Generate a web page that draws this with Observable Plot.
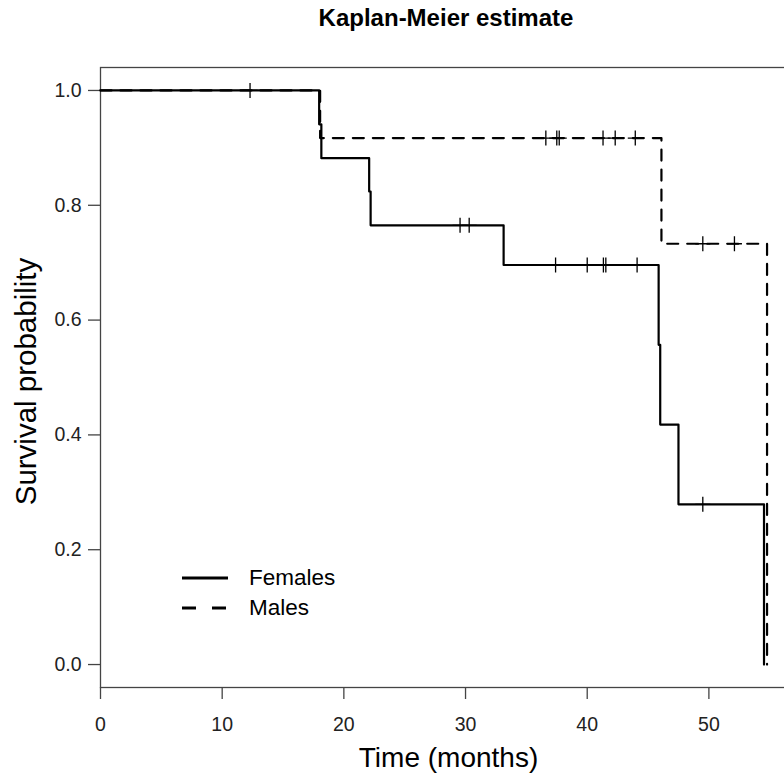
<!DOCTYPE html>
<html>
<head>
<meta charset="utf-8">
<script src="https://cdn.jsdelivr.net/npm/d3@7"></script>
<script src="https://cdn.jsdelivr.net/npm/@observablehq/plot@0.6"></script>
<style>
  html, body { margin: 0; padding: 0; background: #fff; overflow: hidden; }
  #wrap { position: relative; width: 784px; height: 774px; font-family: "Liberation Sans", Arial, sans-serif; color: #000; }
  #title { position: absolute; left: 98px; width: 696px; top: 6px; text-align: center; font-weight: bold; font-size: 24px; line-height: 24px; }
  #chart { position: absolute; left: 0; top: 40px; }
  .leg { position: absolute; left: 180px; height: 30px; display: flex; align-items: center; font-size: 22.5px; }
  .leg svg { display: block; margin-right: 19px; }
</style>
</head>
<body>
<div id="wrap">
  <div id="title"></div>
  <div id="chart"></div>
</div>
<script>
// ---- data ----
const titleText = "Kaplan-Meier estimate";
const xLabel = "Time (months)";
const yLabel = "Survival probability";
const seriesNames = ["Females", "Males"];

const femaleTimes = [0, 17.97, 18.15, 22.08, 22.2, 33.13, 45.87, 46.0, 47.5, 54.53];
const femaleSurv  = [1.0, 0.941, 0.882, 0.824, 0.765, 0.696, 0.557, 0.418, 0.279, 0.0];
const femaleCensorTimes = [12.29, 29.55, 30.3, 37.4, 40.0, 41.33, 41.53, 44.1, 49.5];
const femaleCensorSurv  = [1.0, 0.765, 0.765, 0.696, 0.696, 0.696, 0.696, 0.696, 0.279];

const maleTimes = [0, 18.05, 46.1, 54.78];
const maleSurv  = [1.0, 0.917, 0.733, 0.0];
const maleCensorTimes = [36.6, 37.5, 37.7, 41.3, 42.3, 43.95, 49.5, 52.1];
const maleCensorSurv  = [0.917, 0.917, 0.917, 0.917, 0.917, 0.917, 0.733, 0.733];

const xTicks = [0, 10, 20, 30, 40, 50];
const yTicks = [0, 0.2, 0.4, 0.6, 0.8, 1.0];

// ---- build tables ----
const rows = (ts, ss, name) => ts.map((t, i) => ({series: name, t, s: ss[i]}));
const femaleRows = rows(femaleTimes, femaleSurv, seriesNames[0]);
const maleRows = rows(maleTimes, maleSurv, seriesNames[1]);
const censorRows = [
  ...rows(femaleCensorTimes, femaleCensorSurv, seriesNames[0]),
  ...rows(maleCensorTimes, maleCensorSurv, seriesNames[1])
];

const font = "Liberation Sans, Arial, sans-serif";
const dashes = {Females: null, Males: "11,9"};

const chart = Plot.plot({
  width: 784,
  height: 734,
  marginLeft: 100,
  marginRight: -12,
  marginTop: 27,
  marginBottom: 87,
  style: {fontFamily: font, background: "white", color: "#000", overflow: "hidden"},
  x: {domain: [0, 57.2], axis: null},
  y: {domain: [-0.04, 1.04], axis: null},
  marks: [
    Plot.frame({stroke: "#444", strokeWidth: 1.3}),
    Plot.axisX(xTicks, {tickSize: 12, tickPadding: 18, fontSize: 19.5, label: null, stroke: "#444", strokeWidth: 1.3, fill: "#222"}),
    Plot.axisY(yTicks, {tickSize: 12, tickPadding: 7, fontSize: 19.5, label: null, tickFormat: d3.format(".1f"), stroke: "#444", strokeWidth: 1.3, fill: "#222"}),
    Plot.line(femaleRows, {x: "t", y: "s", curve: "step-after", stroke: "black", strokeWidth: 2.2}),
    Plot.line(maleRows, {x: "t", y: "s", curve: "step-after", stroke: "black", strokeWidth: 2.2, strokeDasharray: dashes.Males}),
    Plot.dot(censorRows, {x: "t", y: "s", symbol: "plus", r: 4.9, stroke: "black", strokeWidth: 1.3}),
    Plot.text([xLabel], {frameAnchor: "bottom", lineAnchor: "middle", textAnchor: "middle", dy: 70.7, fontSize: 28, fill: "black"}),
    Plot.text([yLabel], {frameAnchor: "left", lineAnchor: "middle", textAnchor: "middle", dx: -74.4, dy: 4, rotate: -90, fontSize: 29.5, fill: "black"})
  ]
});
document.getElementById("chart").appendChild(chart);
document.getElementById("title").textContent = titleText;

// ---- legend (HTML) ----
const wrap = document.getElementById("wrap");
const legendY = [578, 608];
seriesNames.forEach((name, i) => {
  const item = document.createElement("div");
  item.className = "leg";
  item.style.top = (legendY[i] - 15) + "px";
  const dash = name === "Males" ? "stroke-dasharray=\"14,16\"" : "";
  item.innerHTML = `<svg width="50" height="30"><line x1="2" x2="48" y1="15" y2="15" stroke="black" stroke-width="3" ${dash}/></svg><span>${name}</span>`;
  wrap.appendChild(item);
});
</script>
</body>
</html>
